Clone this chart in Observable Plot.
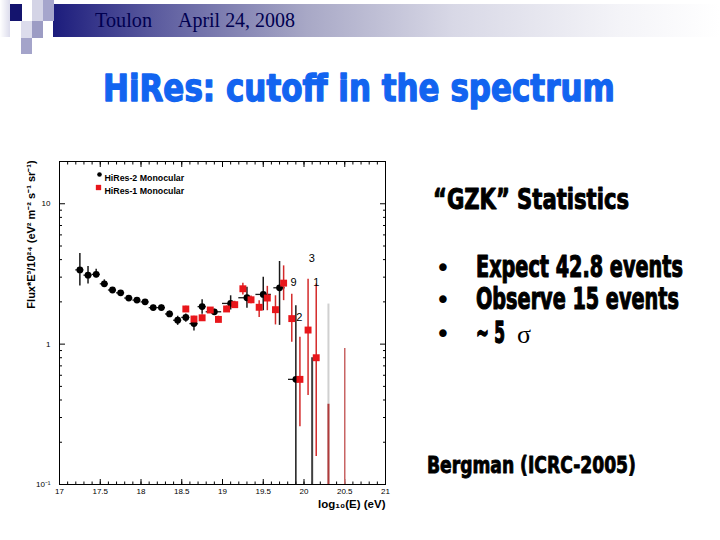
<!DOCTYPE html>
<html><head><meta charset="utf-8">
<script src="https://cdn.jsdelivr.net/npm/d3@7"></script>
<script src="https://cdn.jsdelivr.net/npm/@observablehq/plot@0.6"></script>
<style>
html,body{margin:0;padding:0;background:#fff;}
#slide{position:relative;width:720px;height:540px;overflow:hidden;background:#fff;}
#deco{position:absolute;left:0;top:0;}
#chart{position:absolute;left:0;top:140px;}
</style></head><body>
<div id="slide"><svg id="deco" width="720" height="540"></svg><div id="chart"></div></div>
<script>
// ---------- Slide texts ----------
const headerPlace = "Toulon";
const headerDate = "April 24, 2008";
const slideTitle = "HiRes: cutoff in the spectrum";
const boxTitle = "\u201CGZK\u201D Statistics";
const bullets = ["Expect 42.8 events", "Observe 15 events", "~ 5"];
const sigmaText = "\u03C3";
const citation = "Bergman (ICRC-2005)";

// ---------- Chart texts ----------
const yAxisLabel = "Flux*E\u00B3/10\u00B2\u2074 (eV\u00B2 m\u207B\u00B2 s\u207B\u00B9 sr\u207B\u00B9)";
const xAxisLabel = "log\u2081\u2080(E) (eV)";
const legendLabels = ["HiRes-2 Monocular", "HiRes-1 Monocular"];
const xTickValues = [17, 17.5, 18, 18.5, 19, 19.5, 20, 20.5, 21];
const xTickLabels = ["17", "17.5", "18", "18.5", "19", "19.5", "20", "20.5", "21"];
const yTickValues = [0.1, 1, 10];
const yTickLabels = ["10\u207B\u00B9", "1", "10"];

// ---------- HiRes-2 Monocular (black) ----------
const hr2X   = [17.25,17.35,17.45,17.55,17.65,17.75,17.85,17.95,18.05,18.15,18.25,18.35,18.45,18.55,18.65,18.75,18.9,19.1,19.3,19.5,19.7,19.9];
const hr2Y   = [3.38,3.10,3.14,2.69,2.43,2.32,2.13,2.06,2.00,1.82,1.82,1.64,1.48,1.55,1.40,1.85,1.70,1.95,2.14,2.26,2.52,0.561];
const hr2Hi  = [4.42,3.57,3.42,2.87,2.52,2.40,2.20,2.12,2.07,1.89,1.90,1.72,1.58,1.64,1.49,2.07,1.77,2.21,2.54,2.99,3.88,1.88];
const hr2Lo  = [2.60,2.68,2.97,2.55,2.35,2.24,2.06,2.00,1.93,1.75,1.74,1.56,1.36,1.43,1.24,1.63,1.63,1.75,1.80,1.73,1.36,0.1];
const hr2XLo = [17.2,17.3,17.4,17.5,17.6,17.7,17.8,17.9,18.0,18.1,18.2,18.3,18.4,18.5,18.6,18.7,18.8,19.0,19.2,19.41,19.63,19.81];
const hr2XHi = [17.3,17.4,17.5,17.6,17.7,17.8,17.9,18.0,18.1,18.2,18.3,18.4,18.5,18.6,18.7,18.8,18.99,19.19,19.39,19.6,19.77,19.97];
// upper-limit bars of the empty HiRes-2 bins
const hr2LimX  = [20.1, 20.3];
const hr2LimHi = [0.80, 1.93];
const hr2LimLo = [0.1, 0.1];

// ---------- HiRes-1 Monocular (red) ----------
const hr1X  = [18.55,18.65,18.75,18.85,18.95,19.05,19.15,19.25,19.35,19.45,19.55,19.65,19.75,19.85,19.95,20.05,20.15];
const hr1Y  = [1.78,1.51,1.54,1.75,1.50,1.78,1.91,2.48,2.07,1.83,2.13,1.76,2.72,1.52,0.561,1.26,0.80];
const hr1Hi = [1.86,1.58,1.62,1.82,1.58,1.87,2.02,2.72,2.20,2.04,2.58,2.21,3.61,2.27,1.12,2.90,2.68];
const hr1Lo = [1.70,1.44,1.46,1.68,1.42,1.69,1.80,2.24,1.94,1.55,1.73,1.37,2.04,1.03,0.258,0.43,0.158];
const hr1LimX  = [20.3, 20.5];
const hr1LimHi = [0.373, 0.93];
const hr1LimLo = [0.1, 0.1];

// ---------- event-count annotations ----------
const annText = ["3", "9", "1", "2"];
const annX = [20.095, 19.871, 20.152, 19.944];
const annY = [4.06, 2.74, 2.74, 1.54];

// ---------- tables ----------
const hr2 = hr2X.map((x, i) => ({x, y: hr2Y[i], lo: hr2Lo[i], hi: hr2Hi[i], xlo: hr2XLo[i], xhi: hr2XHi[i]}));
const hr1 = hr1X.map((x, i) => ({x, y: hr1Y[i], lo: hr1Lo[i], hi: hr1Hi[i]}));
const hr2Lim = hr2LimX.map((x, i) => ({x, lo: hr2LimLo[i], hi: hr2LimHi[i]}));
const hr1Lim = hr1LimX.map((x, i) => ({x, lo: hr1LimLo[i], hi: hr1LimHi[i]}));
const ann = annText.map((t, i) => ({t, x: annX[i], y: annY[i]}));
const xMinor = d3.range(170, 211).map(d => d / 10);
const yMinor = [0.1, 1, 10].flatMap(b => d3.range(2, 10).map(k => k * b)).filter(v => v < 20);

const fontChart = "'Liberation Sans', Arial, Helvetica, sans-serif";
const red = "#e8161b";

const chart = Plot.plot({
  width: 400, height: 380,
  marginLeft: 59, marginRight: 15, marginTop: 21, marginBottom: 36,
  style: {fontFamily: fontChart, background: "white", color: "black", overflow: "visible"},
  x: {domain: [17, 21], label: null},
  y: {type: "log", domain: [0.1, 20], label: null},
  marks: [
    Plot.axisX({anchor: "bottom", ticks: xMinor, tickSize: -2.5, fill: "none", label: null}),
    Plot.axisX({anchor: "bottom", ticks: xTickValues, tickSize: -5, fill: "none", label: null}),
    Plot.axisX({anchor: "top", ticks: xMinor, tickSize: -2.5, fill: "none", label: null}),
    Plot.axisX({anchor: "top", ticks: xTickValues, tickSize: -5, fill: "none", label: null}),
    Plot.axisX({anchor: "bottom", ticks: xTickValues, tickSize: 0, tickPadding: 4, fontSize: 8, label: null,
      tickFormat: d => xTickLabels[xTickValues.indexOf(d)]}),
    Plot.axisY({anchor: "left", ticks: yMinor, tickSize: -3, fill: "none", label: null}),
    Plot.axisY({anchor: "left", ticks: yTickValues, tickSize: -6, fill: "none", label: null}),
    Plot.axisY({anchor: "right", ticks: yMinor, tickSize: -3, fill: "none", label: null}),
    Plot.axisY({anchor: "right", ticks: yTickValues, tickSize: -6, fill: "none", label: null}),
    Plot.axisY({anchor: "left", ticks: yTickValues, tickSize: 0, tickPadding: 9, fontSize: 8, label: null,
      tickFormat: d => yTickLabels[yTickValues.indexOf(d)]}),
    Plot.frame({stroke: "black", strokeWidth: 1}),
    // upper limits
    Plot.ruleX(hr2Lim.slice(1), {x: "x", y1: "lo", y2: "hi", stroke: "#d0d0d0", strokeWidth: 2}),
    Plot.ruleX(hr2Lim.slice(0, 1), {x: "x", y1: "lo", y2: "hi", stroke: "#404040", strokeWidth: 2}),
    Plot.ruleX(hr1Lim.slice(0, 1), {x: "x", y1: "lo", y2: "hi", stroke: "#b03a3a", strokeWidth: 2}),
    Plot.ruleX(hr1Lim.slice(1), {x: "x", y1: "lo", y2: "hi", stroke: "#c86464", strokeWidth: 1.5}),
    // error bars
    Plot.ruleY(hr2, {y: "y", x1: "xlo", x2: "xhi", stroke: "#1a1a1a", strokeWidth: 1.3}),
    Plot.ruleX(hr2, {x: "x", y1: "lo", y2: "hi", stroke: "#1a1a1a", strokeWidth: 1.5}),
    Plot.ruleX(hr1, {x: "x", y1: "lo", y2: "hi", stroke: "#d42a2a", strokeWidth: 1.5}),
    // points
    Plot.dot(hr2, {x: "x", y: "y", r: 3.4, fill: "black"}),
    Plot.dot(hr1, {x: "x", y: "y", r: 3.9, symbol: "square", fill: red}),
    // event counts
    Plot.text(ann, {x: "x", y: "y", text: "t", fontSize: 11, fill: "black"}),
    // legend
    Plot.dot([legendLabels[0]], {frameAnchor: "top-left", dx: 40, dy: 13, r: 2.3, fill: "black"}),
    Plot.dot([legendLabels[1]], {frameAnchor: "top-left", dx: 39, dy: 26, r: 3, symbol: "square", fill: red}),
    Plot.text([legendLabels[0]], {text: d => d, frameAnchor: "top-left", dx: 45, dy: 13, textAnchor: "start", fontSize: 8.8, fontWeight: "bold"}),
    Plot.text([legendLabels[1]], {text: d => d, frameAnchor: "top-left", dx: 45, dy: 26, textAnchor: "start", fontSize: 8.8, fontWeight: "bold"}),
    // axis titles
    Plot.text([yAxisLabel], {text: d => d, frameAnchor: "top-left", dx: -32, dy: 73, rotate: -90, textAnchor: "middle", fontSize: 11, fontWeight: "bold"}),
    Plot.text([xAxisLabel], {text: d => d, frameAnchor: "bottom-right", dx: 0, dy: 23, textAnchor: "end", fontSize: 11.5, fontWeight: "bold"})
  ]
});
document.getElementById("chart").appendChild(chart);

// ---------- slide decoration ----------
const deco = d3.select("#deco");
const defs = deco.append("defs");
const g1 = defs.append("linearGradient").attr("id", "band").attr("x1", 0).attr("x2", 1).attr("y1", 0).attr("y2", 0);
[[0, "#1c1c7c"], [0.15, "#5a5a9e"], [0.38, "#a8a8c6"], [0.6, "#d8d8e6"], [0.85, "#f4f4f8"], [1, "#ffffff"]]
  .forEach(([o, c]) => g1.append("stop").attr("offset", o).attr("stop-color", c));
const g2 = defs.append("linearGradient").attr("id", "strip").attr("x1", 0).attr("x2", 1).attr("y1", 0).attr("y2", 0);
[[0, "#ffffff"], [1, "#dcdcec"]].forEach(([o, c]) => g2.append("stop").attr("offset", o).attr("stop-color", c));

deco.append("rect").attr("x", 53).attr("y", 4).attr("width", 667).attr("height", 33).attr("fill", "url(#band)");
const squares = [
  [0, 0, 10, 37, "url(#strip)"],
  [10, 4, 12, 17, "#14146e"],
  [32, 0, 11, 21, "#d4d4e6"],
  [43, 0, 11, 21, "#a6a6cc"],
  [21, 21, 11, 17, "#dcdcec"],
  [32, 21, 11, 17, "#9c9cc4"],
  [21, 38, 11, 16, "#a4a4ca"]
];
squares.forEach(([x, y, w, h, c]) => deco.append("rect").attr("x", x).attr("y", y).attr("width", w).attr("height", h).attr("fill", c));

const serif = "'Liberation Serif', 'Times New Roman', serif";
const heavy = "'DejaVu Sans Condensed', 'DejaVu Sans', sans-serif";
function txt(s, x, y, opts) {
  const t = deco.append("text").attr("x", x).attr("y", y).text(s)
    .style("font-family", opts.family).style("font-size", opts.size + "px")
    .style("font-weight", opts.weight || "normal").style("fill", opts.fill || "black");
  if (opts.len) t.attr("textLength", opts.len).attr("lengthAdjust", "spacingAndGlyphs");
  if (opts.anchor) t.attr("text-anchor", opts.anchor);
  return t;
}
// heavy condensed text: fit width by font size, then stretch vertically to the cap height
function fit(s, x, baseline, width, capH, fill, strokeW) {
  const g = deco.append("g");
  const t = g.append("text").attr("x", 0).attr("y", 0).text(s)
    .style("font-family", heavy).style("font-size", "100px").style("font-weight", "bold")
    .style("font-stretch", "condensed").style("fill", fill);
  const w = t.node().getComputedTextLength() || 1;
  const fs = 100 * width / w;
  t.style("font-size", fs + "px");
  const sy = capH / (0.729 * fs);
  g.attr("transform", `translate(${x},${baseline}) scale(1,${sy})`);
  if (strokeW) t.style("stroke", fill).style("stroke-width", strokeW).style("stroke-linejoin", "round");
  return t;
}
txt(headerPlace, 95, 26.5, {family: serif, size: 20, fill: "#000050", len: 57});
txt(headerDate, 178, 26.5, {family: serif, size: 20, fill: "#000050", len: 117});
fit(slideTitle, 103, 100.7, 512, 27.6, "#1264f0", 1.2);
fit(boxTitle, 433, 209, 196, 20.7, "black", 0.8);
const bulletY = [276.7, 309.3, 342.7];
const bulletLen = [207, 203, 29];
bullets.forEach((b, i) => {
  txt("\u2022", 443, bulletY[i], {family: "'DejaVu Sans', sans-serif", size: 26, anchor: "middle"});
  fit(b, 476, bulletY[i], bulletLen[i], 21.7, "black", 0.8);
});
txt(sigmaText, 517, 342.7, {family: serif, size: 26});
fit(citation, 427, 472.7, 209, 17, "black", 0.7);
</script>
</body></html>
